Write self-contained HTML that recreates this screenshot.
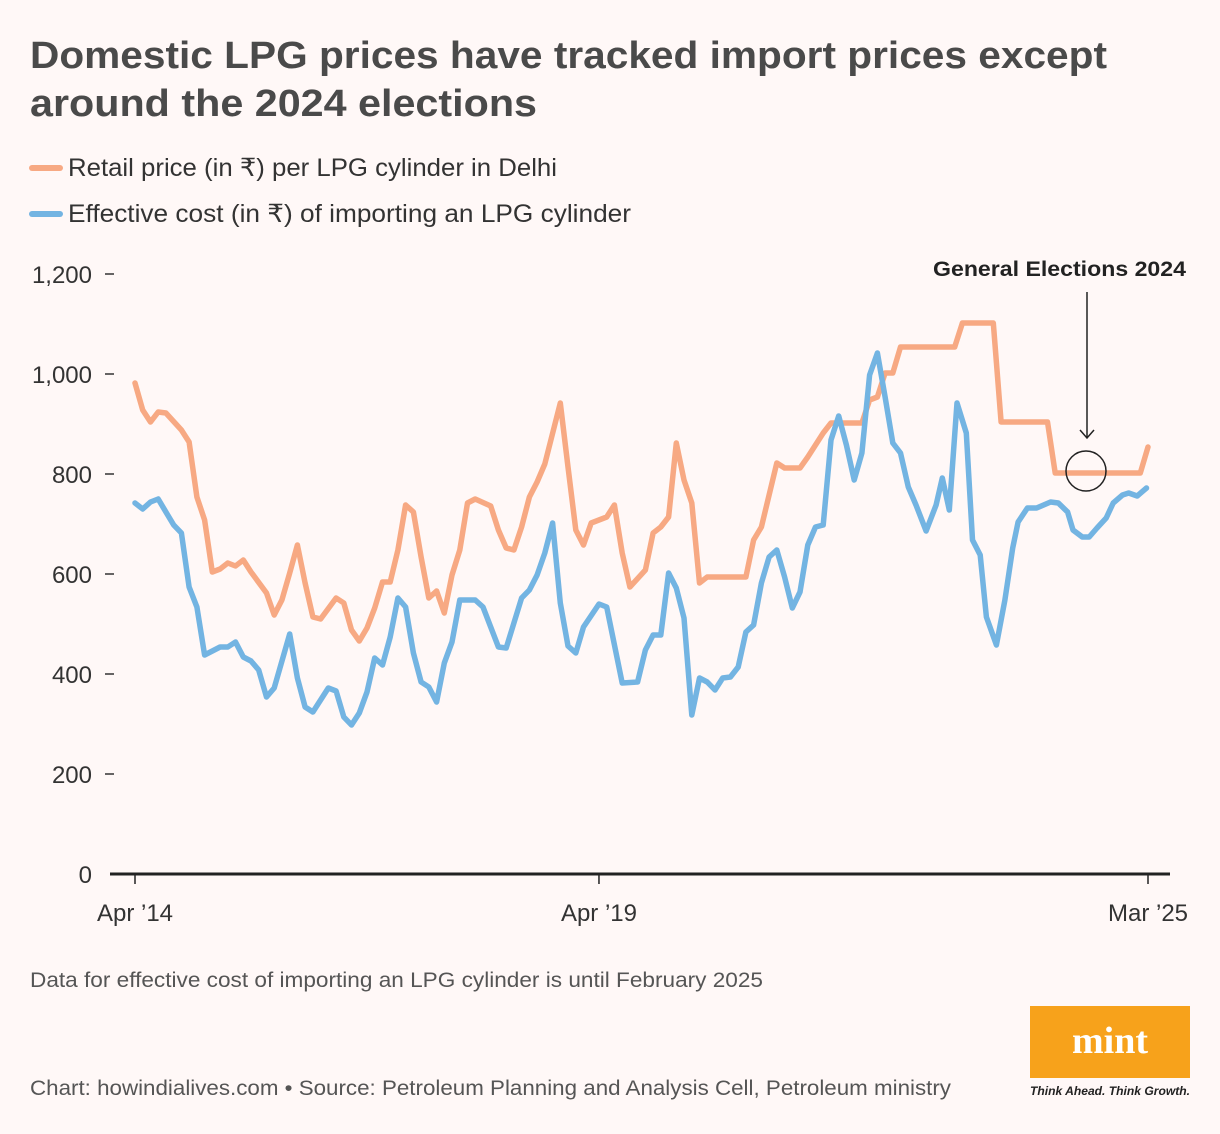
<!DOCTYPE html>
<html><head><meta charset="utf-8"><style>
html,body{margin:0;padding:0;background:#fff8f7;}
svg{display:block;font-family:"Liberation Sans",sans-serif;}
</style></head><body>
<svg id="chart" width="1220" height="1134" viewBox="0 0 1220 1134">
<rect width="1220" height="1134" fill="#fff8f7"/>
<text x="30" y="68" font-size="38" font-weight="bold" fill="#4a4a4a" textLength="1077" lengthAdjust="spacingAndGlyphs">Domestic LPG prices have tracked import prices except</text>
<text x="30" y="116" font-size="38" font-weight="bold" fill="#4a4a4a" textLength="507" lengthAdjust="spacingAndGlyphs">around the 2024 elections</text>
<g>
<line x1="32" y1="168" x2="60" y2="168" stroke="#f7a983" stroke-width="6" stroke-linecap="round"/>
<text x="68" y="176" font-size="25" fill="#333" textLength="489" lengthAdjust="spacingAndGlyphs">Retail price (in ₹) per LPG cylinder in Delhi</text>
<line x1="32" y1="214" x2="60" y2="214" stroke="#73b4e2" stroke-width="6" stroke-linecap="round"/>
<text x="68" y="222" font-size="25" fill="#333" textLength="563" lengthAdjust="spacingAndGlyphs">Effective cost (in ₹) of importing an LPG cylinder</text>
</g>
<g id="axes"></g>
<g id="series"></g>
<g>
<text x="1186" y="276" font-size="21" font-weight="bold" fill="#222" text-anchor="end" textLength="253" lengthAdjust="spacingAndGlyphs">General Elections 2024</text>
<line x1="1087" y1="292" x2="1087" y2="438" stroke="#222" stroke-width="1.5"/>
<polyline points="1080,430 1087,438 1094,430" fill="none" stroke="#222" stroke-width="1.5"/>
<circle cx="1086" cy="471" r="20" fill="none" stroke="#222" stroke-width="1.5"/>
</g>
<text x="30" y="987" font-size="21" fill="#555" textLength="733" lengthAdjust="spacingAndGlyphs">Data for effective cost of importing an LPG cylinder is until February 2025</text>
<text x="30" y="1095" font-size="21" fill="#555" textLength="921" lengthAdjust="spacingAndGlyphs">Chart: howindialives.com • Source: Petroleum Planning and Analysis Cell, Petroleum ministry</text>
<g>
<rect x="1030" y="1006" width="160" height="72" fill="#f7a21b"/>
<text x="1110" y="1053" font-size="38" font-weight="bold" fill="#fff" text-anchor="middle" font-family="Liberation Serif, serif">mint</text>
<text x="1030" y="1095" font-size="12" font-weight="bold" font-style="italic" fill="#222" textLength="160" lengthAdjust="spacingAndGlyphs">Think Ahead. Think Growth.</text>
</g>
</svg>
<script>
const yTicks = [0, 200, 400, 600, 800, 1000, 1200];
const yTickLabels = ["0", "200", "400", "600", "800", "1,000", "1,200"];
const xTickMonths = [0, 60, 131];
const xTickLabels = ["Apr \u201914", "Apr \u201919", "Mar \u201925"];
const retailMonths = [0,1,2,3,4,6,7,8,9,10,11,12,13,14,15,17,18,19,20,21,22,23,24,26,27,28,29,30,31,32,33,34,35,36,37,38,39,40,41,42,43,44,46,47,48,49,50,51,52,53,55,56,57,58,59,61,62,63,64,66,67,68,69,70,71,72,73,74,79,80,81,83,84,86,87,89,90,94,95,96,97,98,99,106,107,111,112,118,119,130,131];
const retailValues = [982,928,904,924,922,888,864,754,708,604,610,622,616,628,604,562,518,548,602,658,582,514,510,552,542,488,466,492,532,584,584,648,738,724,634,552,566,522,598,648,742,750,736,688,652,648,694,754,784,820,942,814,688,658,702,714,738,642,574,608,682,694,714,862,788,742,582,594,594,668,694,822,812,812,834,882,902,902,948,954,1002,1002,1054,1054,1102,1102,904,904,802,802,854];
const importMonths = [0,1,2,3,4,5,6,7,8,9,11,12,13,14,15,16,17,18,20,21,22,23,25,26,27,28,29,30,31,32,33,34,35,36,37,38,39,40,41,42,44,45,46,47,48,49,50,51,52,53,54,55,56,57,58,60,61,63,65,66,67,68,69,70,71,72,73,74,75,76,77,78,79,80,81,82,83,84,85,86,87,88,89,90,91,92,93,94,95,96,97,98,99,100,101,102.3,103.6,104.4,105.3,106.3,107.5,108.3,109.3,110.1,111.4,112.5,113.5,114.2,115.4,116.6,118.4,119.4,120.6,121.3,122.5,123.4,124.4,125.6,126.5,127.7,128.5,129.6,130.8];
const importValues = [742,730,744,750,724,698,682,574,534,438,454,454,464,434,426,408,354,372,480,392,334,324,372,366,314,298,322,364,432,418,474,552,534,442,384,374,344,422,464,548,548,534,494,454,452,502,552,568,598,642,702,542,456,442,494,540,534,382,384,448,478,478,602,572,512,318,392,384,368,392,394,414,484,498,582,634,648,594,532,564,658,694,698,868,916,858,788,842,998,1042,954,862,842,774,738,686,738,792,728,942,882,668,638,514,458,548,652,704,732,732,744,742,724,688,674,674,692,712,742,758,762,756,772];

const NS = "http://www.w3.org/2000/svg";
const x = m => 135 + (1148 - 135) * m / 131;
const y = v => 874 - v * 0.5;
const axes = document.getElementById('axes');
const series = document.getElementById('series');
function mk(tag, attrs, parent) {
  const el = document.createElementNS(NS, tag);
  for (const k in attrs) el.setAttribute(k, attrs[k]);
  parent.appendChild(el);
  return el;
}
yTicks.forEach((v, i) => {
  if (v > 0) {
    const t = mk('line', {x1: 105, x2: 114, y1: y(v), y2: y(v), stroke: '#333', 'stroke-width': 1.5}, axes);
    
    
  }
  const lb = mk('text', {x: 92, y: y(v) + 9, 'font-size': 24, fill: '#333', 'text-anchor': 'end'}, axes);
  lb.textContent = yTickLabels[i];
  
  
});
const ax = mk('line', {x1: 110, x2: 1170, y1: y(0), y2: y(0), stroke: '#222', 'stroke-width': 3}, axes);


xTickMonths.forEach((m, i) => {
  const t = mk('line', {x1: x(m), x2: x(m), y1: y(0), y2: y(0) + 10, stroke: '#222', 'stroke-width': 1.5}, axes);
  
  
  const lb = mk('text', {x: x(m), y: 921, 'font-size': 24, fill: '#333', 'text-anchor': 'middle'}, axes);
  lb.textContent = xTickLabels[i];
  
  
});
function line(ms, vs, color, name) {
  const pts = ms.map((m, i) => x(m).toFixed(1) + ',' + y(vs[i]).toFixed(1)).join(' ');
  const p = mk('polyline', {points: pts, fill: 'none', stroke: color, 'stroke-width': 5.5, 'stroke-linejoin': 'round', 'stroke-linecap': 'round'}, series);
  
  
}
line(retailMonths, retailValues, '#f7a983', 'retail-price-line');
line(importMonths, importValues, '#73b4e2', 'import-cost-line');
</script>
</body></html>
